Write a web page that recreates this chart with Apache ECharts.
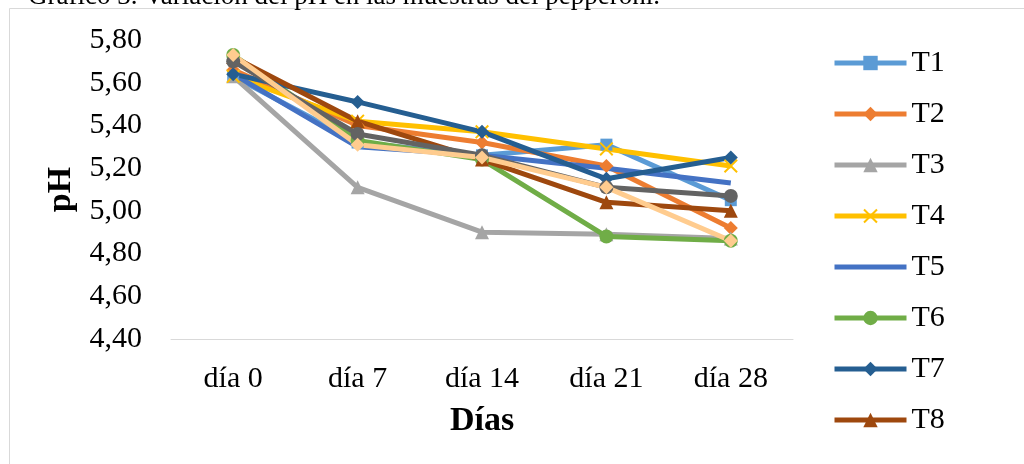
<!DOCTYPE html>
<html>
<head>
<meta charset="utf-8">
<style>
  html, body { margin: 0; padding: 0; background: #fff; }
  #chart { width: 1024px; height: 464px; }
</style>
<script src="https://cdn.jsdelivr.net/npm/echarts@6/dist/echarts.min.js"></script>
</head>
<body>
<div id="chart"></div>
<script>
// Sampling days
const days = ['día 0', 'día 7', 'día 14', 'día 21', 'día 28'];

// pH per treatment
const T1 = [5.63, 5.32, 5.26, 5.31, 5.05];
const T2 = [5.66, 5.40, 5.32, 5.21, 4.92];
const T3 = [5.63, 5.11, 4.90, 4.89, 4.87];
const T4 = [5.63, 5.42, 5.37, 5.29, 5.21];
const T5 = [5.64, 5.30, 5.26, 5.20, 5.13];
const T6 = [5.73, 5.33, 5.24, 4.88, 4.86];
const T7 = [5.64, 5.51, 5.37, 5.15, 5.25];
const T8 = [5.72, 5.42, 5.24, 5.04, 5.00];
const T9 = [5.70, 5.36, 5.26, 5.11, 5.07];
const T10 = [5.73, 5.31, 5.25, 5.11, 4.86];

const names = ['T1', 'T2', 'T3', 'T4', 'T5', 'T6', 'T7', 'T8', 'T9', 'T10'];
const values = [T1, T2, T3, T4, T5, T6, T7, T8, T9, T10];
// entries that fit in the legend box
const legendNames = ['T1', 'T2', 'T3', 'T4', 'T5', 'T6', 'T7', 'T8'];

const FONT = 'Liberation Serif';
const CROSS = 'path://M0,1L1,0L5,4L9,0L10,1L6,5L10,9L9,10L5,6L1,10L0,9L4,5Z';

// T5 is drawn as a plain line: its marker is kept fully transparent
const styles = [
  { color: '#5B9BD5', symbol: 'rect', size: 12, mark: 1 },
  { color: '#ED7D31', symbol: 'diamond', size: 14, mark: 1 },
  { color: '#A5A5A5', symbol: 'triangle', size: 14, mark: 1 },
  { color: '#FFC000', symbol: CROSS, size: 14, mark: 1 },
  { color: '#4472C4', symbol: 'circle', size: 1, mark: 0 },
  { color: '#70AD47', symbol: 'circle', size: 14, mark: 1 },
  { color: '#255E91', symbol: 'diamond', size: 14, mark: 1 },
  { color: '#9E480E', symbol: 'triangle', size: 14, mark: 1 },
  { color: '#636363', symbol: 'circle', size: 14, mark: 1 },
  { color: '#FFCC8F', symbol: 'diamond', size: 14, mark: 1 }
];

const series = names.map((n, i) => ({
  name: n,
  type: 'line',
  data: values[i],
  symbol: styles[i].symbol,
  symbolSize: styles[i].size,
  color: styles[i].color,
  itemStyle: { color: styles[i].color, opacity: styles[i].mark },
  lineStyle: { color: styles[i].color, width: 5, opacity: 1 }
}));

const chart = echarts.init(document.getElementById('chart'));
chart.setOption({
  animation: false,
  backgroundColor: '#fff',
  graphic: [
    {
      type: 'rect',
      shape: { x: 9.5, y: 8.5, width: 2000, height: 2000 },
      style: { fill: 'none', stroke: '#D9D9D9', lineWidth: 1 },
      silent: true
    },
    {
      type: 'text',
      x: 28,
      y: 10,
      style: {
        text: 'Gráfico 3. Variación del pH en las muestras del pepperoni.',
        font: '27px "Liberation Serif"',
        fill: '#000',
        verticalAlign: 'bottom'
      },
      silent: true
    }
  ],
  grid: { left: 171, right: 231, top: 40, bottom: 125 },
  legend: {
    orient: 'vertical',
    left: 827,
    top: 43,
    itemWidth: 72,
    itemHeight: 18,
    itemGap: 21,
    lineStyle: { width: 5 },
    textStyle: { fontFamily: FONT, fontSize: 30, color: '#000' },
    data: legendNames
  },
  xAxis: {
    type: 'category',
    data: days,
    boundaryGap: true,
    axisLine: { lineStyle: { color: '#D9D9D9', width: 1 } },
    axisTick: { show: false },
    axisLabel: { fontFamily: FONT, fontSize: 30, color: '#000', margin: 25 },
    name: 'Días',
    nameLocation: 'middle',
    nameGap: 65,
    nameTextStyle: { fontFamily: FONT, fontSize: 34, fontWeight: 'bold', color: '#000' }
  },
  yAxis: {
    type: 'value',
    min: 4.4,
    max: 5.8,
    interval: 0.2,
    splitLine: { show: false },
    axisLine: { show: false },
    axisTick: { show: false },
    axisLabel: {
      fontFamily: FONT, fontSize: 30, color: '#000', margin: 29,
      formatter: v => v.toFixed(2).replace('.', ',')
    },
    name: 'pH',
    nameLocation: 'middle',
    nameGap: 91,
    nameTextStyle: { fontFamily: FONT, fontSize: 34, fontWeight: 'bold', color: '#000' }
  },
  series: series
});
</script>
</body>
</html>
